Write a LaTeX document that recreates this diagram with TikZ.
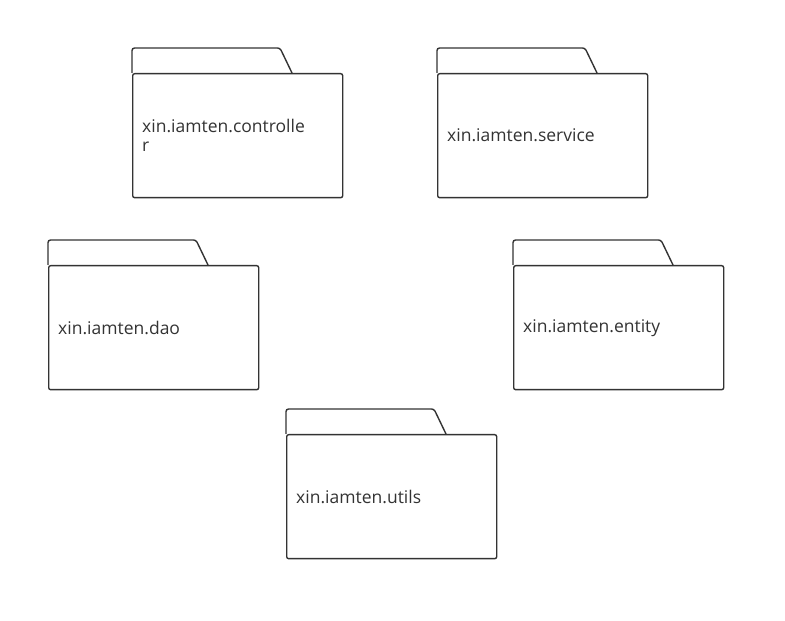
\documentclass[tikz,border=0pt]{standalone}
\usepackage{fontspec}
\setmainfont{Open Sans}
\usetikzlibrary{positioning}
\definecolor{pkgline}{HTML}{333333}
\def\packages{{(132,548)/controller/{xin.iamten.controlle\\r}}, {(437,548)/service/{xin.iamten.service}}, {(48,356)/dao/{xin.iamten.dao}}, {(513,356)/entity/{xin.iamten.entity}}, {(286,187)/utils/{xin.iamten.utils}}}
\tikzstyle{pkg body}=[draw=pkgline, line width=1.4pt, rounded corners=2pt, minimum width=210pt, minimum height=124pt, inner sep=0pt, anchor=north west]
\tikzstyle{pkg tab}=[draw=pkgline, line width=1.4pt, rounded corners=2.5pt]
\tikzstyle{pkg label}=[anchor=west, align=left, inner sep=0pt, text=pkgline, font=\fontsize{17.5}{19}\selectfont]

\begin{document}
\begin{tikzpicture}[x=1pt, y=1pt]
  \useasboundingbox (0,0) rectangle (785,621);
  % package folders with their names
  \foreach \pos/\name/\text in \packages {
    \node[pkg body] (\name) at \pos {};
    \path[pkg tab] (\name.north west) -- ++(0,25) -- ++(148,0) -- ++(12,-25);
    \node[pkg label, right=10pt of \name.west] (\name-label) {\text};
  }
\end{tikzpicture}
\end{document}
